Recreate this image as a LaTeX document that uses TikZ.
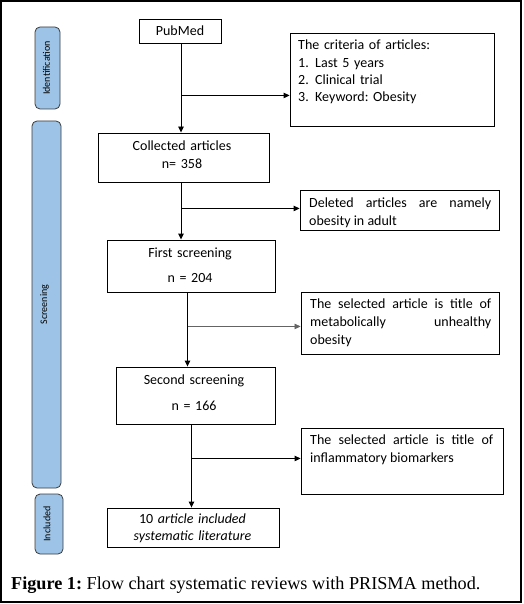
\documentclass[tikz,border=0pt]{standalone}
\usepackage{fontspec}
\setmainfont{Carlito}
\newfontfamily\capfont{Liberation Serif}
\usetikzlibrary{arrows.meta,calc}
\definecolor{pillblue}{RGB}{157,195,230}
\definecolor{pilledge}{RGB}{60,60,60}
\frenchspacing
\begin{document}
\begin{tikzpicture}[x=1pt,y=-1pt,
  box/.style={draw=black, line width=0.9pt, inner sep=0pt},
  pillbox/.style={draw=pilledge, line width=0.8pt, fill=pillblue, rounded corners=5pt, inner sep=0pt},
  pilltxt/.style={font=\fontsize{10}{12}\selectfont, rotate=90, inner sep=0pt},
  txt/.style={font=\fontsize{14}{18}\selectfont, inner sep=0pt},
  jtxt/.style={txt, anchor=base west, align=justify},
  ctxt/.style={txt, anchor=base, align=center, text width=160pt},
  arr/.style={line width=0.9pt, -{Triangle[length=6pt,width=5.5pt]}},
  garr/.style={line width=0.7pt, draw={rgb,255:red,100;green,100;blue,100}, -{Triangle[length=6pt,width=5.5pt]}}]
\useasboundingbox (0,0) rectangle (523,604);
\draw[line width=1.2pt] (1,1) rectangle (521,602);

% side pills
\node[pillbox, minimum width=25pt, minimum height=82pt] (idp) at (47.5,68) {};
\node[pilltxt] at (46.5,68) {Identification};
\node[pillbox, minimum width=29pt, minimum height=367pt] (scp) at (46.5,304.5) {};
\node[pilltxt] at (44.5,304.5) {Screening};
\node[pillbox, minimum width=28pt, minimum height=60pt] (inp) at (49,524) {};
\node[pilltxt] at (47,524) {Included};

% main boxes
\node[box, minimum width=82pt, minimum height=24pt] (pub) at (180,31) {};
\node[txt] at (pub) {PubMed};
\node[box, minimum width=204pt, minimum height=93pt] (crit) at (392,79.5) {};
\node[box, minimum width=171pt, minimum height=49pt] (coll) at (183.5,157.5) {};
\node[box, minimum width=199pt, minimum height=40pt] (del) at (399.5,210) {};
\node[box, minimum width=168pt, minimum height=52pt] (first) at (191,266) {};
\node[box, minimum width=198pt, minimum height=62pt] (sel1) at (400,323) {};
\node[box, minimum width=159pt, minimum height=57pt] (second) at (195.5,395.5) {};
\node[box, minimum width=202pt, minimum height=66pt] (sel2) at (402,461) {};
\node[box, minimum width=172pt, minimum height=39pt] (incl) at (193,527.5) {};

% texts
\node[txt, anchor=base west, align=left, text width=190pt] at (298,49.8)
  {The criteria of articles:\\
   \makebox[17pt][l]{1.}Last 5 years\\[-1pt]
   \makebox[17pt][l]{2.}Clinical trial\\[-1pt]
   \makebox[17pt][l]{3.}Keyword: Obesity};
\node[ctxt] at (182,150.5) {Collected articles\\ n= 358};
\node[jtxt, text width=182pt] at (309,207.5) {Deleted articles are namely\linebreak obesity in adult};
\node[ctxt] at (190,257.5) {First screening\\[7pt] n = 204};
\node[jtxt, text width=181pt] at (310,308.5) {The selected article is title of\linebreak metabolically unhealthy\linebreak obesity};
\node[ctxt] at (194,384.5) {Second screening\\[8pt] n = 166};
\node[jtxt, text width=183pt] at (310,444.5) {The selected article is title of\linebreak inflammatory biomarkers};
\node[ctxt, font=\fontsize{14}{17}\selectfont] at (192.5,523.5) {10 \textit{article included}\\ \textit{systematic literature}};

% caption
\node[inner sep=0pt, anchor=base west, font=\capfont\fontsize{18.2}{20}\selectfont] (cap) at (11,589)
  {\textbf{Figure 1:} Flow chart systematic reviews with PRISMA method.};

% connectors
\coordinate (b1) at ($(pub.south)+(1,52)$);
\draw[arr] ($(pub.south)+(1,0)$) -- (b1 |- coll.north);
\draw[arr] (b1) -- (b1 -| crit.west);

\coordinate (b2) at ($(coll.south)+(-2.5,26)$);
\draw[arr] ($(coll.south)+(-2.5,0)$) -- (b2 |- first.north);
\draw[arr] (b2) -- (b2 -| del.west);

\coordinate (b3) at ($(first.south)+(-3.5,34)$);
\draw[arr] ($(first.south)+(-3.5,0)$) -- (b3 |- second.north);
\draw[garr] (b3) -- (b3 -| sel1.west);

\coordinate (b4) at ($(second.south)+(-4,34)$);
\draw[arr] ($(second.south)+(-4,0)$) -- (b4 |- incl.north);
\draw[arr] (b4) -- (b4 -| sel2.west);
\end{tikzpicture}
\end{document}
